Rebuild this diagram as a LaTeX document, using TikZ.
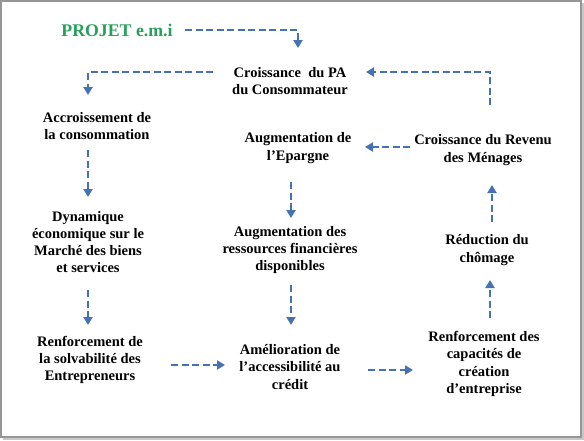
\documentclass[tikz,border=0pt]{standalone}
\usepackage{fontspec}
\setmainfont{Liberation Serif}
\usetikzlibrary{arrows.meta}
\definecolor{arrblue}{RGB}{70,114,180}
\definecolor{projgreen}{RGB}{38,160,92}
\definecolor{framegray}{RGB}{150,150,150}
\definecolor{shadowgray}{RGB}{200,200,200}
\begin{document}
\begin{tikzpicture}[x=1pt,y=-1pt,
  lbl/.style={inner sep=0pt, align=center, font=\fontsize{14.5}{17.2}\selectfont\bfseries, text=black},
  arr/.style={draw=arrblue, line width=2.8pt, dash pattern=on 7pt off 3.5pt,
              -{Triangle[length=8pt,width=9pt]}}]
\useasboundingbox (0,0) rectangle (584,440);
\fill[shadowgray] (3,3) rectangle (584,440);
\fill[white] (0,0) rectangle (581,437);
\draw[framegray, line width=1.6pt] (1,1) rectangle (581,437);

\node[inner sep=0pt, font=\fontsize{17.8}{20}\selectfont\bfseries, text=projgreen] (proj) at (117,30) {PROJET e.m.i};
\node[lbl] (pa)   at (290,81)  {Croissance \ du PA\\du Consommateur};
\node[lbl] (acc)  at (97,126)  {Accroissement de\\la consommation};
\node[lbl] (epar) at (298,148) {Augmentation de\\l'Epargne};
\node[lbl] (rev)  at (483,150) {Croissance du Revenu\\des Ménages};
\node[lbl] (dyn)  at (88,242)  {Dynamique\\économique sur le\\Marché des biens\\et services};
\node[lbl] (res)  at (290,250) {Augmentation des\\ressources financières\\disponibles};
\node[lbl] (red)  at (487,250) {Réduction du\\chômage};
\node[lbl] (solv) at (90,360)  {Renforcement de\\la solvabilité des\\Entrepreneurs};
\node[lbl] (amel) at (290,367) {Amélioration de\\l'accessibilité au\\crédit};
\node[lbl] (cap)  at (484,364) {Renforcement des\\capacités de\\création\\d'entreprise};

\draw[arr] ([shift={(68,0)}]proj.center) -| ([shift={(8,-33)}]pa.center);
\draw[arr] ([shift={(-77,-9)}]pa.center) -| ([shift={(-9,-31)}]acc.center);
\draw[arr] ([shift={(7,-45)}]rev.center) |- ([shift={(76,-9)}]pa.center);
\draw[arr] ([shift={(-73,-3)}]rev.center) -- ([shift={(67,-1)}]epar.center);
\draw[arr] ([shift={(-9,24)}]acc.center) -- ([shift={(0,-45)}]dyn.center);
\draw[arr] ([shift={(-7,34)}]epar.center) -- ([shift={(1,-32)}]res.center);
\draw[arr] ([shift={(5,-28)}]red.center) -- ([shift={(9,35)}]rev.center);
\draw[arr] ([shift={(6,-46)}]cap.center) -- ([shift={(3,30)}]red.center);
\draw[arr] ([shift={(0,48)}]dyn.center) -- ([shift={(-2,-35)}]solv.center);
\draw[arr] ([shift={(1,35)}]res.center) -- ([shift={(1,-42)}]amel.center);
\draw[arr] ([shift={(81,5)}]solv.center) -- ([shift={(-65,-2)}]amel.center);
\draw[arr] ([shift={(78,3)}]amel.center) -- ([shift={(-71,6)}]cap.center);
\end{tikzpicture}
\end{document}
